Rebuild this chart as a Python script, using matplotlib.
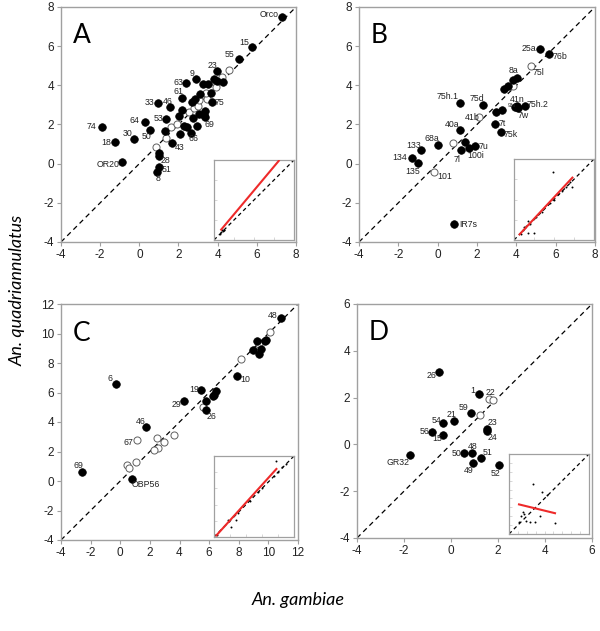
import matplotlib
matplotlib.use("Agg")
import matplotlib.pyplot as plt
import numpy as np

# ---------------- data ----------------
# Panel A (ORs)
A_fx = [7.27, 5.74, 5.08, 3.97, 2.90, 2.36, 3.24, 3.51, 3.82, 4.28, 2.17, 2.85, 3.09, 3.68, 3.70,
        0.93, 1.59, 2.68, 1.35, 2.20, 2.02, 0.27, -1.93, -0.29, 0.52, -1.26, 1.29, 2.29, 2.43,
        2.73, 2.92, 3.34, 3.34, 3.07, 2.63, 2.10, 1.69, -0.89, 1.01, 0.98, 1.00, 0.90, 3.95, 3.30]
A_fy = [7.49, 5.96, 5.33, 4.72, 4.32, 4.11, 4.06, 4.09, 4.32, 4.16, 3.33, 3.30, 3.55, 3.62, 3.16,
        3.11, 2.87, 3.16, 2.26, 2.74, 2.43, 2.14, 1.89, 1.24, 1.72, 1.09, 1.68, 1.92, 1.85,
        2.35, 1.92, 2.40, 2.70, 2.53, 1.58, 1.51, 1.06, 0.07, 0.56, 0.39, -0.15, -0.42, 4.20, 2.50]
A_lab = ["Orco", "15", "55", "23", "9", "63", "", "", "", "", "61", "", "", "", "75",
         "33", "46", "", "53", "", "", "64", "74", "30", "50", "18", "", "", "",
         "", "", "69", "", "", "66", "", "43", "OR20", "", "28", "51", "8", "", ""]
A_ox = [0.84, 1.35, 1.63, 1.92, 2.56, 2.77, 3.02, 3.04, 3.43, 3.39, 3.90, 4.23, 4.57, 3.92]
A_oy = [0.85, 1.29, 1.85, 2.00, 2.64, 2.82, 2.94, 3.27, 3.28, 3.62, 4.09, 4.43, 4.77, 3.92]
A_olab = [""] * len(A_ox)

# Panel B (IRs)
B_fx = [5.22, 5.66, 4.01, 3.82, 3.59, 3.35, 1.14, 2.30, 4.03, 4.10, 3.92, 4.44, 3.25, 2.98,
        2.89, 3.20, 1.14, 0.02, 1.38, 1.92, 1.57, 1.21, -0.86, -1.30, -1.01, 0.84]
B_fy = [5.87, 5.60, 4.39, 4.29, 3.98, 3.81, 3.10, 3.01, 2.93, 2.84, 2.90, 2.93, 2.76, 2.66,
        2.03, 1.60, 1.74, 0.97, 1.09, 0.89, 0.80, 0.68, 0.68, 0.29, 0.05, -3.08]
B_lab = ["25a", "76b", "8a", "", "", "", "75h.1", "75d", "41n", "7w", "93a", "75h.2", "", "",
         "7t", "75k", "40a", "68a", "", "7u", "100i", "7l", "133", "134", "135", "IR7s"]
B_ox = [4.74, 3.84, 2.09, 0.79, -0.20]
B_oy = [4.97, 3.98, 2.38, 1.06, -0.41]
B_olab = ["75l", "", "41b", "", "101"]

# Panel C (OBPs)
C_fx = [10.85, 9.23, 9.79, 9.86, 8.96, 9.48, 9.39, 7.90, -0.29, 5.47, 6.44, 6.31, 6.24,
        4.33, 5.77, 5.79, 1.74, -2.58, 0.79]
C_fy = [11.03, 9.49, 9.49, 9.58, 8.86, 8.95, 8.63, 7.12, 6.60, 6.15, 6.10, 5.85, 5.79,
        5.40, 5.40, 4.84, 3.66, 0.59, 0.14]
C_lab = ["48", "", "", "", "", "", "", "10", "6", "19", "", "", "",
         "29", "", "26", "46", "69", "OBP56"]
C_ox = [10.09, 8.15, 9.34, 5.56, 2.48, 2.95, 2.57, 2.26, 3.61, 1.13, 1.09, 0.48, 0.59]
C_oy = [10.10, 8.29, 9.31, 4.99, 2.92, 2.62, 2.24, 2.08, 3.14, 2.76, 1.27, 1.06, 0.88]
C_olab = ["", "", "", "", "", "", "", "", "", "67", "", "", ""]

# Panel D (GRs)
D_fx = [-0.49, 1.19, 0.85, 0.11, -0.33, -0.79, -0.32, 1.54, 1.55, 0.55, 0.91, 0.92, 1.28, 2.03, -1.76]
D_fy = [3.08, 2.17, 1.36, 1.02, 0.92, 0.54, 0.42, 0.67, 0.58, -0.36, -0.37, -0.81, -0.57, -0.90, -0.44]
D_lab = ["26", "1", "59", "21", "54", "56", "15", "23", "24", "50", "48", "49", "51", "52", "GR32"]
D_ox = [1.62, 1.78, 1.24]
D_oy = [1.95, 1.90, 1.25]
D_olab = ["22", "", ""]

# Inset data (fraction of inset range)
A_ins_x = [0.07, 0.09, 0.10, 0.11, 0.12, 0.13]
A_ins_y = [0.08, 0.10, 0.12, 0.11, 0.13, 0.12]
A_fit_x = [0.09, 0.81]
A_fit_y = [0.13, 0.99]

B_ins_x = [0.49, 0.73, 0.18, 0.15, 0.13, 0.11, 0.18, 0.25, 0.09, 0.20, 0.28, 0.35, 0.45, 0.50,
           0.55, 0.60, 0.65, 0.70]
B_ins_y = [0.84, 0.66, 0.24, 0.17, 0.16, 0.12, 0.09, 0.09, 0.07, 0.20, 0.29, 0.35, 0.46, 0.50,
           0.57, 0.61, 0.66, 0.71]
B_fit_x = [0.07, 0.73]
B_fit_y = [0.07, 0.77]

C_ins_x = [0.78, 0.21, 0.28, 0.19, 0.17, 0.04, 0.30, 0.45, 0.55, 0.60, 0.75, 0.80, 0.85, 0.90]
C_ins_y = [0.94, 0.12, 0.21, 0.20, 0.21, 0.03, 0.30, 0.45, 0.55, 0.60, 0.75, 0.80, 0.87, 0.90]
C_fit_x = [0.03, 0.78]
C_fit_y = [0.02, 0.84]

D_ins_x = [0.30, 0.41, 0.47, 0.125, 0.21, 0.26, 0.33, 0.39, 0.57, 0.17, 0.15, 0.19]
D_ins_y = [0.62, 0.52, 0.49, 0.15, 0.16, 0.15, 0.15, 0.23, 0.14, 0.27, 0.22, 0.25]
D_fit_x = [0.125, 0.575]
D_fit_y = [0.37, 0.26]

# label offsets (pixels) — styling
A_off = {"Orco": (-13, 2), "15": (-8, 4), "55": (-9, 5), "23": (-5, 6), "9": (-4, 6), "63": (-7, 1),
         "61": (-3, 7), "33": (-8, 0), "46": (-3, 6), "53": (-7, 1), "75": (8, -1), "64": (-10, 1),
         "74": (-10, 0), "30": (-6, 6), "50": (-3, -7), "18": (-8, 0), "69": (5, -8), "70": (6, -5),
         "66": (3, -6), "43": (7, -5), "OR20": (-14, -2), "28": (7, -4), "51": (8, -3), "8": (1, -7)}
B_off = {"25a": (-11, 0), "76b": (11, -3), "75l": (8, -6), "8a": (-3, 7), "75h.1": (-12, 6),
         "75d": (-6, 6), "41n": (0, 7), "75h.2": (13, 2), "93a": (-3, 1), "7w": (5, -7),
         "41b": (-7, 0), "7t": (8, 0), "75k": (10, -2), "40a": (-8, 5), "68a": (-6, 6),
         "133": (-7, 5), "7u": (8, 0), "100i": (7, -8), "7l": (-4, -9), "134": (-12, 0),
         "135": (-5, -9), "101": (11, -5), "IR7s": (14, -1)}
C_off = {"48": (-8, 3), "10": (8, -4), "6": (-6, 5), "19": (-7, 1), "29": (-8, -3), "26": (6, -7),
         "46": (-5, 6), "67": (-9, -2), "69": (-4, 7), "OBP56": (14, -6)}
D_off = {"26": (-8, -3), "1": (-6, 3), "22": (1, 6), "59": (-7, 5), "21": (-2, 6), "54": (-7, 2),
         "56": (-8, 0), "15": (-6, -4), "23": (5, 6), "24": (5, -7), "48": (0, 7), "50": (-7, -1),
         "51": (6, 5), "49": (-4, -7), "52": (-3, -8), "GR32": (-12, -8)}

# ---------------- figure ----------------
W, H = 600, 631
fig = plt.figure(figsize=(W / 100, H / 100), dpi=100)
plt.rcParams['font.family'] = ['Liberation Sans', 'DejaVu Sans']

FRAME = '#a0a0a0'


def px_axes(x0, y0, x1, y1):
    return fig.add_axes([x0 / W, 1 - y1 / H, (x1 - x0) / W, (y1 - y0) / H])


def main_panel(rect, lim, step, letter, fx, fy, flab, ox, oy, olab, offs):
    ax = px_axes(*rect)
    lo, hi = lim
    ax.set_xlim(lo, hi)
    ax.set_ylim(lo, hi)
    ticks = np.arange(lo, hi + 0.1, step)
    ax.set_xticks(ticks)
    ax.set_yticks(ticks)
    ax.set_xticklabels([f"{int(t)}" for t in ticks])
    ax.set_yticklabels([f"{int(t)}" for t in ticks])
    ax.tick_params(direction='out', length=3, width=0.8, color=FRAME, labelsize=8.5,
                   labelcolor='#222222', pad=2)
    for s in ax.spines.values():
        s.set_color(FRAME)
        s.set_linewidth(1.0)
    ax.plot([lo, hi], [lo, hi], color='black', lw=0.9, ls=(0, (4, 3)), zorder=1)
    ax.scatter(ox, oy, s=26, facecolor='white', edgecolor='#606060', linewidth=0.7, zorder=2)
    ax.scatter(fx, fy, s=30, facecolor='black', edgecolor='black', linewidth=0.5, zorder=3)
    for x, y, t in list(zip(fx, fy, flab)) + list(zip(ox, oy, olab)):
        if t:
            dx, dy = offs.get(t, (6, 0))
            ax.annotate(t, (x, y), xytext=(dx, dy), textcoords='offset pixels',
                        ha='center', va='center',
                        fontsize=(3.5 if t == "93a" else 6.3), color='#222222', zorder=4)
    ax.text(0.05, 0.93, letter, transform=ax.transAxes, fontsize=19, family=['Lato', 'DejaVu Sans'],
            ha='left', va='top')
    return ax


def inset(rect, px_, py_, fitx, fity, nt):
    ax = px_axes(*rect)
    ax.set_xlim(0, 1)
    ax.set_ylim(0, 1)
    ax.set_facecolor('white')
    for s in ax.spines.values():
        s.set_color(FRAME)
        s.set_linewidth(0.9)
    t = np.linspace(0, 1, nt + 1)[1:-1]
    ax.set_xticks(t)
    ax.set_yticks(t)
    ax.tick_params(direction='in', length=2, width=0.5, color='#c8c8c8', labelbottom=False,
                   labelleft=False)
    ax.plot([0, 1], [0, 1], color='black', lw=0.9, ls=(0, (3, 2.5)), zorder=1)
    ax.scatter(px_, py_, s=2.0, color='black', linewidths=0, zorder=2)
    ax.plot(fitx, fity, color='#ee2a2a', lw=1.5, zorder=3)
    return ax


main_panel((61, 7, 296, 242), (-4, 8), 2, "A", A_fx, A_fy, A_lab, A_ox, A_oy, A_olab, A_off)
main_panel((359, 7, 595, 242), (-4, 8), 2, "B", B_fx, B_fy, B_lab, B_ox, B_oy, B_olab, B_off)
main_panel((61, 304, 298, 540), (-4, 12), 2, "C", C_fx, C_fy, C_lab, C_ox, C_oy, C_olab, C_off)
main_panel((357, 304, 592, 538), (-4, 6), 2, "D", D_fx, D_fy, D_lab, D_ox, D_oy, D_olab, D_off)

inset((214, 160, 294, 240), A_ins_x, A_ins_y, A_fit_x, A_fit_y, 4)
inset((514, 159, 594, 240), B_ins_x, B_ins_y, B_fit_x, B_fit_y, 4)
inset((214, 456, 294, 537), C_ins_x, C_ins_y, C_fit_x, C_fit_y, 5)
inset((509, 454, 589, 534), D_ins_x, D_ins_y, D_fit_x, D_fit_y, 9)

fig.text(18 / W, 1 - 290 / H, "An. quadriannulatus", rotation=90, ha='center', va='center',
         fontsize=13, style='italic', family=['Lato', 'DejaVu Sans'])
fig.text(298 / W, 1 - 600 / H, "An. gambiae", ha='center', va='center',
         fontsize=13, style='italic', family=['Lato', 'DejaVu Sans'])

fig.savefig("out.png", dpi=100)
